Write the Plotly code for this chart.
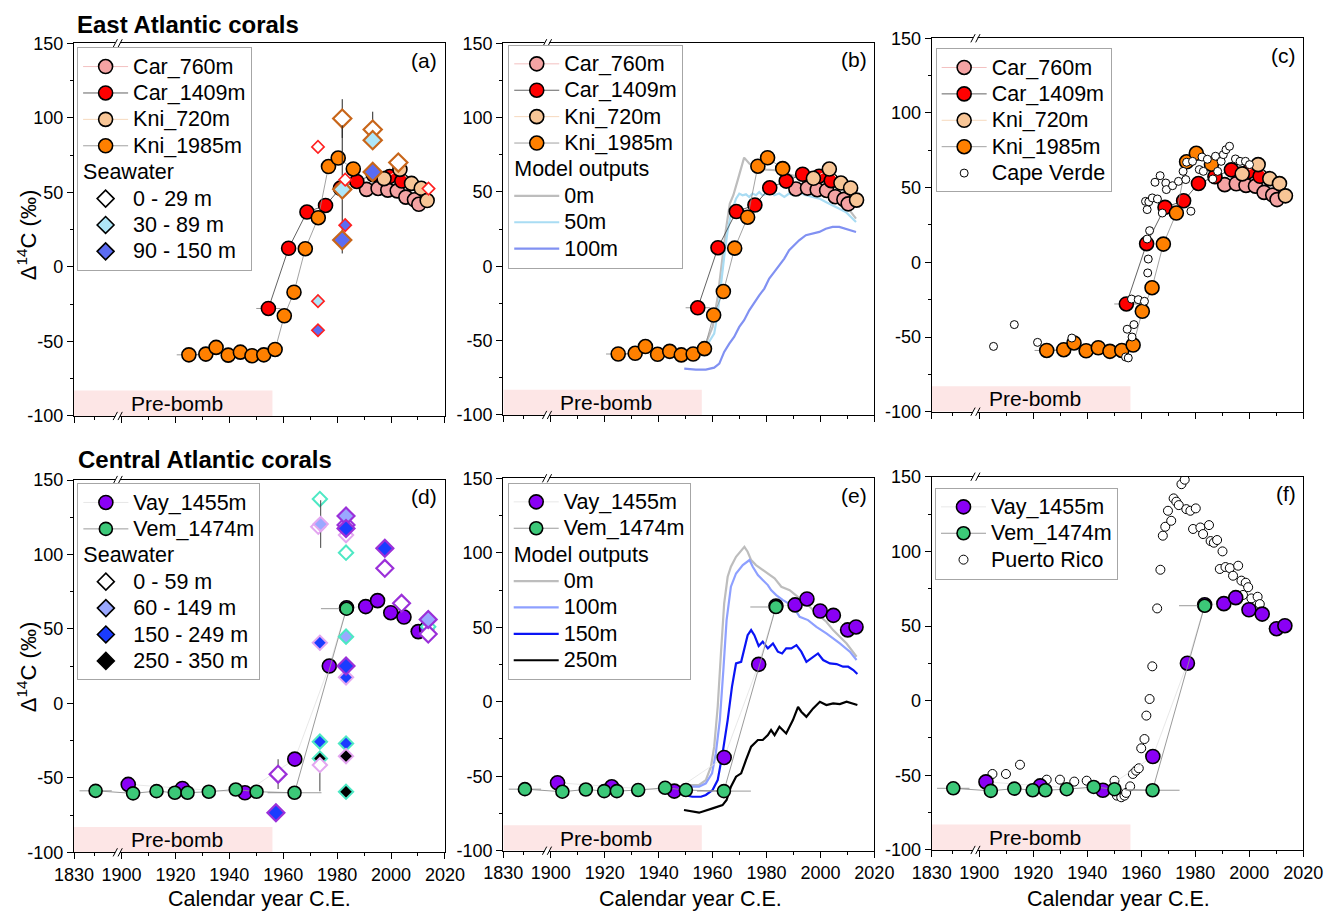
import plotly.graph_objects as go

FONT = "Liberation Sans, Arial, sans-serif"

# ---------------- axis settings (x axis is broken: 1830 | 1900 ... 2020) -------------
X_START = 1882.4                      # display position of the "1830" tick (axis break)
XT_VALS = [X_START, 1900, 1920, 1940, 1960, 1980, 2000, 2020]
XT_TEXT = ["1830", "1900", "1920", "1940", "1960", "1980", "2000", "2020"]
X_MINOR = [1890, 1910, 1930, 1950, 1970, 1990, 2010]
Y_TICKS = [-100, -50, 0, 50, 100, 150]
Y_TEXT = ["-100", "-50", "0", "50", "100", "150"]
Y_MINOR = [-75, -25, 25, 75, 125]

# ---------------- East Atlantic corals ----------------
car760_year = [1990.9, 1995.2, 1998.8, 2002.3, 2005.5, 2008.7, 2010.3]
car760_val = [52.0, 52.6, 51.5, 51.0, 46.8, 45.0, 42.0]

car1409_year = [1954.5, 1962.0, 1968.8, 1975.7, 1981.2, 1987.3, 1993.4, 1999.5, 2004.0]
car1409_val = [-27.9, 12.5, 36.8, 41.2, 52.8, 57.3, 61.9, 60.6, 57.6]
car1409_xerr = [4.5, 0, 0, 0, 0, 0, 0, 0, 0]

kni720_year = [1997.4, 2003.3, 2007.6, 2011.2, 2013.4]
kni720_val = [59.2, 65.4, 56.0, 52.7, 44.5]

kni1985_year = [1925.0, 1931.3, 1935.1, 1939.6, 1944.1, 1948.4, 1952.8, 1957.0, 1960.4,
                1964.0, 1968.2, 1973.0, 1976.8, 1980.4, 1986.0]
kni1985_val = [-59.0, -58.5, -54.0, -59.2, -57.2, -59.6, -59.0, -55.4, -32.8,
               -17.0, 12.2, 33.0, 67.3, 73.0, 65.7]
kni1985_xerr = [4.5] + [0] * 14

# seawater, East Atlantic (panel a)
swa_year = [1972.9, 1983.0, 2013.9, 1972.9, 1972.9, 1983.0,
            1981.9, 1993.2, 2002.7, 1981.9, 1993.2, 1981.9, 1993.2]
swa_val = [80.5, 58.5, 52.5, -23.0, -42.5, 28.0,
           99.5, 92.1, 70.0, 52.0, 85.0, 18.0, 63.7]
swa_err = [0, 0, 0, 0, 0, 0, 13, 12, 0, 43, 0, 0, 0]
swa_depth = ["0 - 29 m", "0 - 29 m", "0 - 29 m", "30 - 89 m", "90 - 150 m", "90 - 150 m",
             "0 - 29 m", "0 - 29 m", "0 - 29 m", "30 - 89 m", "30 - 89 m", "90 - 150 m", "90 - 150 m"]
swa_site = ["Car"] * 6 + ["Kni"] * 7
swa_depths = ["0 - 29 m", "30 - 89 m", "90 - 150 m"]
swa_fill = ["white", "#aee6f8", "#5b6cf2"]

# model outputs, East Atlantic (panel b)
mb0_year = [1957.5, 1960.0, 1961.9, 1963.5, 1964.9, 1966.4, 1967.7, 1969.3, 1970.5, 1971.7, 1973.6,
            1976.1, 1979.8, 1983.5, 1987.2, 1992.1, 1997.1, 2002.0, 2005.7, 2009.4, 2013.2]
mb0_val = [-52.0, -40.8, -20.6, 4.0, 24.2, 42.2, 47.8, 57.8, 65.7, 73.1, 69.1,
           65.7, 65.0, 64.6, 62.3, 60.1, 57.4, 53.4, 48.9, 41.0, 32.1]
mb50_year = [1957.5, 1960.6, 1961.9, 1963.1, 1964.3, 1965.6, 1966.6, 1967.7, 1968.7, 1969.9, 1971.1,
             1972.4, 1973.6, 1974.8, 1976.1, 1977.3, 1978.5, 1980.4, 1981.6, 1982.9, 1984.7, 1986.6,
             1988.4, 1990.3, 1992.1, 1994.6, 1997.1, 1999.6, 2002.0, 2004.5, 2007.0, 2009.4, 2013.2]
mb50_val = [-54.3, -45.3, -31.8, -11.7, 6.3, 24.2, 33.2, 39.9, 45.5, 48.9, 47.8,
            48.4, 46.6, 48.9, 47.8, 50.0, 47.8, 48.9, 52.2, 47.8, 48.9, 46.6,
            48.9, 47.8, 49.3, 47.8, 46.6, 45.5, 43.3, 41.0, 38.8, 36.5, 29.8]
mb100_year = [1949.5, 1953.8, 1957.5, 1960.6, 1962.5, 1964.3, 1966.2, 1968.0, 1969.9, 1971.7,
              1973.6, 1975.5, 1977.3, 1979.2, 1981.0, 1982.9, 1984.7, 1986.6, 1988.4, 1990.3,
              1992.1, 1994.6, 1997.1, 1999.6, 2002.0, 2004.5, 2007.0, 2009.4, 2013.2]
mb100_val = [-68.8, -69.5, -69.5, -68.2, -65.5, -57.6, -52.0, -47.5, -40.8, -36.3,
             -29.6, -24.0, -19.5, -15.0, -8.3, -3.8, 0.7, 5.2, 10.8, 14.1,
             17.5, 20.9, 22.0, 23.1, 25.3, 26.5, 26.5, 25.3, 23.1]

# Cape Verde (panel c)
cv_year = [1905.3, 1913.0, 1921.6, 1934.3, 1954.2, 1955.2, 1954.8, 1956.6, 1957.3, 1956.4,
           1958.9, 1961.2, 1962.4, 1962.6, 1962.2, 1963.1, 1961.6, 1962.2, 1962.8, 1964.1,
           1966.0, 1967.8, 1965.1, 1967.0, 1969.1, 1969.3, 1971.6, 1973.8, 1976.5, 1975.5,
           1976.8, 1979.0, 1981.5, 1983.0, 1978.4, 1982.5, 1984.5, 1986.5, 1987.5, 1988.3,
           1989.6, 1990.4, 1991.4, 1992.7, 1994.9, 1996.6, 1998.6, 2000.1]
cv_val = [-56.3, -41.7, -53.6, -50.7, -63.4, -64.0, -44.8, -50.0, -41.7, -24.6,
          -25.0, -26.1, -7.1, 2.2, 15.6, 21.2, 40.8, 35.3, 40.5, 43.1,
          42.4, 33.0, 53.6, 58.0, 53.1, 48.7, 51.3, 54.2, 55.4, 60.9,
          67.0, 67.6, 62.1, 60.9, 34.2, 70.5, 69.0, 55.8, 71.0, 60.9,
          67.6, 72.1, 75.4, 77.7, 69.2, 67.6, 67.6, 65.4]

# ---------------- Central Atlantic corals ----------------
vay_year = [1902.5, 1922.6, 1945.8, 1964.3, 1977.1, 1983.5, 1990.6, 1995.0, 1999.9, 2004.8, 2010.1, 2013.2]
vay_val = [-54.4, -57.1, -60.0, -37.4, 25.1, 64.2, 65.0, 69.0, 60.9, 58.0, 48.2, 50.2]
vay_xerr_p = [3, 0, 0, 0, 0, 0, 0, 0, 0, 0, 0, 0]
vay_xerr_m = [0, 0, 0, 0, 0, 0, 0, 0, 0, 0, 3, 0]

vem_year = [1890.4, 1904.3, 1913.0, 1919.8, 1924.5, 1932.4, 1942.4, 1950.1, 1964.2, 1983.5]
vem_val = [-58.7, -60.4, -58.9, -60.0, -60.0, -59.3, -57.8, -59.3, -60.0, 63.6]
vem_xerr_p = [6, 0, 0, 0, 0, 0, 0, 0, 10, 0]
vem_xerr_m = [6, 0, 0, 0, 0, 0, 0, 0, 10, 9.5]

# seawater, Central Atlantic (panel d)
swd_year = [1958.1, 1957.3, 1973.6, 1973.0, 1973.9, 1973.6, 1973.6, 1973.6, 1973.6,
            1983.3, 1983.3, 1983.3, 1983.3, 1983.3, 1983.3, 1983.3, 1983.3, 1983.3, 1983.3, 1983.3,
            1997.7, 1997.7, 2003.9, 2013.8, 2013.8, 2013.8]
swd_val = [-47.5, -73.4, 137.2, 118.6, 120.4, 40.7, -25.7, -37.0, -41.4,
           125.8, 119.8, 117.5, 113.0, 101.2, 44.8, 25.1, 17.5, -26.9, -35.4, -59.3,
           104.1, 90.7, 67.2, 56.4, 51.5, 46.6]
swd_err_p = [10, 5, 0, 0, 16, 5, 0, 0, 0,
             0, 0, 0, 0, 0, 0, 0, 0, 0, 0, 0,
             0, 0, 0, 0, 0, 0]
swd_err_m = [10, 5, 0, 0, 16, 5, 0, 22, 0,
             0, 0, 0, 0, 0, 0, 0, 0, 0, 0, 0,
             0, 0, 0, 0, 0, 0]
swd_depth = ["0 - 59 m", "150 - 249 m", "0 - 59 m", "0 - 59 m", "60 - 149 m", "150 - 249 m",
             "150 - 249 m", "250 - 350 m", "0 - 59 m",
             "60 - 149 m", "0 - 59 m", "150 - 249 m", "0 - 59 m", "0 - 59 m", "60 - 149 m",
             "150 - 249 m", "150 - 249 m", "150 - 249 m", "250 - 350 m", "250 - 350 m",
             "150 - 249 m", "0 - 59 m", "0 - 59 m", "60 - 149 m", "0 - 59 m", "0 - 59 m"]
swd_site = ["P", "P", "T", "L", "L", "L", "T", "T", "L",
            "P", "P", "P", "L", "T", "T", "P", "L", "T", "L", "T",
            "P", "P", "P", "P", "T", "P"]
swd_depths = ["0 - 59 m", "60 - 149 m", "150 - 249 m", "250 - 350 m"]
swd_fill = ["white", "#9aa8ff", "#1a3cff", "black"]

# model outputs, Central Atlantic (panel e)
me0_year = [1949.4, 1955.0, 1957.5, 1959.4, 1960.6, 1961.9, 1963.1, 1964.3, 1965.6, 1966.8, 1968.7,
            1970.6, 1971.8, 1973.0, 1974.3, 1976.1, 1978.6, 1981.1, 1983.0, 1985.5, 1988.6, 1992.3,
            1995.4, 1998.5, 2002.2, 2004.7, 2007.2, 2009.7, 2013.4]
me0_val = [-55.9, -55.9, -52.6, -43.6, -30.2, -3.4, 32.4, 66.0, 83.9, 90.6, 97.3,
           101.8, 104.0, 100.7, 95.1, 91.7, 88.4, 85.0, 82.8, 77.2, 74.9, 69.4,
           64.9, 59.3, 53.7, 48.1, 43.6, 39.1, 30.2]
me100_year = [1949.4, 1955.0, 1957.5, 1959.8, 1961.2, 1962.7, 1964.0, 1965.2, 1966.8, 1968.7, 1971.2,
              1973.7, 1974.9, 1976.8, 1978.6, 1980.5, 1981.7, 1983.6, 1986.1, 1989.8, 1992.3,
              1995.4, 1998.5, 2002.2, 2007.2, 2010.9, 2013.4]
me100_val = [-57.0, -57.0, -54.8, -48.1, -34.7, -12.3, 21.3, 54.8, 77.2, 86.1, 91.7,
             95.1, 90.6, 85.0, 81.7, 78.3, 74.9, 71.6, 68.2, 64.2, 57.0,
             54.8, 50.3, 45.9, 39.1, 33.6, 28.0]
me150_year = [1949.4, 1952.5, 1955.7, 1957.5, 1960.0, 1961.9, 1963.7, 1965.6, 1967.2, 1968.7, 1970.6,
              1971.8, 1973.0, 1974.3, 1975.5, 1977.1, 1978.6, 1980.5, 1982.4, 1984.2, 1985.8,
              1987.3, 1989.2, 1991.1, 1992.9, 1994.8, 1997.3, 1999.1, 2001.0, 2003.5, 2006.0,
              2008.4, 2010.3, 2012.2, 2013.7]
me150_val = [-62.6, -63.8, -63.8, -62.6, -59.3, -52.6, -34.7, -12.3, 10.1, 25.7, 26.8,
             36.9, 44.7, 48.1, 44.7, 37.4, 40.3, 35.8, 39.1, 33.6, 32.4,
             35.8, 35.8, 38.0, 33.6, 26.8, 30.2, 32.4, 28.0, 25.7, 25.3,
             23.5, 23.5, 21.3, 18.6]
me250_year = [1949.4, 1955.0, 1960.0, 1963.7, 1965.2, 1966.8, 1968.7, 1970.6, 1972.4, 1974.3, 1976.8,
              1978.6, 1980.5, 1981.7, 1983.0, 1984.8, 1987.3, 1989.8, 1991.7, 1992.9, 1994.8,
              1997.3, 1999.8, 2002.2, 2004.7, 2007.2, 2009.7, 2012.2, 2013.7]
me250_val = [-72.7, -74.5, -71.6, -69.4, -66.0, -57.0, -50.3, -48.1, -39.1, -30.2, -25.7,
             -25.7, -22.4, -19.0, -22.4, -16.8, -21.3, -12.3, -3.4, -6.7, -10.1,
             -4.5, 0.0, -2.2, -1.1, -1.6, 0.0, -1.1, -2.2]

# Puerto Rico (panel f)
pr_year = [1904.9, 1909.9, 1915.1, 1925.0, 1929.9, 1935.2, 1939.8, 1950.1, 1951.0, 1952.6, 1953.8,
           1954.4, 1955.9, 1956.9, 1958.1, 1959.1, 1960.0, 1961.2, 1961.9, 1963.1, 1964.1, 1965.9,
           1967.1, 1968.0, 1968.9, 1969.9, 1971.1, 1972.0, 1973.0, 1973.9, 1974.9, 1976.1, 1976.7,
           1978.2, 1979.2, 1980.2, 1981.9, 1982.9, 1985.1, 1985.7, 1986.9, 1988.1, 1989.1, 1990.1,
           1991.2, 1992.8, 1994.0, 1995.9, 1997.1, 1997.7, 1998.7, 1999.6, 2000.8, 2003.1, 2003.9]
pr_val = [-49.1, -49.1, -42.9, -52.9, -52.9, -54.2, -53.6, -53.6, -63.6, -64.7, -63.6,
          -61.8, -57.4, -49.1, -46.9, -45.3, -31.9, -25.7, -10.0, 1.1, 23.0, 61.8,
          87.7, 110.5, 116.5, 127.2, 120.5, 135.5, 133.3, 131.0, 145.0, 148.0, 128.3,
          127.2, 115.0, 128.8, 116.0, 111.6, 117.6, 106.9, 105.8, 107.6, 88.2, 100.0,
          89.5, 88.8, 83.7, 90.4, 80.4, 70.8, 79.0, 76.0, 68.5, 69.6, 64.7]

PANEL_LABELS = ["(a)", "(b)", "(c)", "(d)", "(e)", "(f)"]

# ---------------- layout geometry ----------------
XDOM = {1: [0.0558, 0.3353], 2: [0.3793, 0.6589], 3: [0.7021, 0.9821],
        4: [0.0558, 0.3353], 5: [0.3793, 0.6589], 6: [0.7021, 0.9821]}
YDOM = {1: [0.5434, 0.9525], 2: [0.5445, 0.9525], 3: [0.5481, 0.9580],
        4: [0.0644, 0.4731], 5: [0.0662, 0.4750], 6: [0.0670, 0.4767]}
LEG_POS = {1: (0.0581, 0.948), 2: (0.3830, 0.951), 3: (0.7051, 0.947),
           4: (0.0583, 0.4695), 5: (0.3826, 0.4702), 6: (0.7046, 0.4647)}

LEG_FONT = 18          # sets the legend row spacing
LEG_TEXT = 21.5        # visible size of the legend texts


def lt(s):
    return f'<span style="font-size:{LEG_TEXT}px">{s}</span>'


fig = go.Figure()


def refs(k):
    return ("x" if k == 1 else f"x{k}"), ("y" if k == 1 else f"y{k}"), ("legend" if k == 1 else f"legend{k}")


def add(tr, k):
    xr, yr, lg = refs(k)
    tr.update(xaxis=xr, yaxis=yr, legend=lg)
    fig.add_trace(tr)


def coral(x, y, name, fill, lcolor, lwidth, k, rank, xp=None, xm=None, size=14):
    err = None
    if xp is not None:
        err = dict(type="data", symmetric=False, array=xp, arrayminus=xm if xm is not None else xp,
                   color="#9a9a9a", thickness=1, width=0)
    add(go.Scatter(x=x, y=y, mode="lines+markers", name=lt(name),
                   line=dict(color=lcolor, width=lwidth),
                   marker=dict(size=size, color=fill, line=dict(color="black", width=1.6)),
                   error_x=err, legendgroup="c", legendrank=rank), k)


def east_corals(k):
    coral(car760_year, car760_val, "Car_760m", "#f4a3a3", "#f3c0c0", 1, k, 1)
    coral(car1409_year, car1409_val, "Car_1409m", "#ff0000", "#3a3a3a", 0.8, k, 2, car1409_xerr)
    coral(kni720_year, kni720_val, "Kni_720m", "#f7c596", "#f6d9bd", 1, k, 3)
    coral(kni1985_year, kni1985_val, "Kni_1985m", "#ff8000", "#8a8a8a", 0.8, k, 4, kni1985_xerr)


def central_corals(k):
    coral(vay_year, vay_val, "Vay_1455m", "#8a00f5", "#e2e2e2", 0.8, k, 1, vay_xerr_p, vay_xerr_m)
    coral(vem_year, vem_val, "Vem_1474m", "#3cc878", "#8f8f8f", 0.9, k, 2, vem_xerr_p, vem_xerr_m, size=13)


def model_line(x, y, name, color, k, rank, width=2.2):
    add(go.Scatter(x=x, y=y, mode="lines", name=lt(name), line=dict(color=color, width=width),
                   legendgroup="m", legendrank=rank,
                   legendgrouptitle=dict(text=lt("Model outputs"),
                                         font=dict(size=LEG_FONT, family=FONT, color="black"))), k)


def legend_diamond(name, fill, k, rank, group_title):
    add(go.Scatter(x=[None], y=[None], mode="markers", name=lt(name),
                   marker=dict(symbol="diamond", size=13, color=fill, line=dict(color="black", width=1.6)),
                   legendgroup="sw", legendrank=rank,
                   legendgrouptitle=dict(text=lt(group_title),
                                         font=dict(size=LEG_FONT, family=FONT, color="black"))), k)


# ---------- panel (a) ----------
east_corals(1)
site_edge_a = {"Kni": ("#c8661a", 14, 2.2), "Car": ("#ff2020", 9.5, 1.6)}
for site in ["Kni", "Car"]:
    edge, size, lw = site_edge_a[site]
    for dep, fill in zip(swa_depths, swa_fill):
        idx = [i for i in range(len(swa_year)) if swa_site[i] == site and swa_depth[i] == dep]
        if not idx:
            continue
        add(go.Scatter(x=[swa_year[i] for i in idx], y=[swa_val[i] for i in idx], mode="markers",
                       showlegend=False,
                       marker=dict(symbol="diamond", size=size, color=fill, line=dict(color=edge, width=lw)),
                       error_y=dict(type="data", array=[swa_err[i] for i in idx], color="#222222",
                                    thickness=1, width=0)), 1)
for j, (dep, fill) in enumerate(zip(swa_depths, swa_fill)):
    legend_diamond(dep, fill, 1, 10 + j, "Seawater")

# ---------- panel (b) ----------
model_line(mb0_year, mb0_val, "0m", "#bdbdbd", 2, 10)
model_line(mb50_year, mb50_val, "50m", "#a9dcf3", 2, 11)
model_line(mb100_year, mb100_val, "100m", "#8191f2", 2, 12)
east_corals(2)

# ---------- panel (c) ----------
east_corals(3)
add(go.Scatter(x=cv_year, y=cv_val, mode="markers", name=lt("Cape Verde"),
               marker=dict(size=8, color="white", line=dict(color="black", width=1)),
               legendgroup="c", legendrank=5), 3)

# ---------- panel (d) ----------
central_corals(4)
site_edge_d = {"P": ("#9b30d9", 13, 2.2), "L": ("#e3a6f0", 11, 2.0), "T": ("#4ee8c4", 11, 2.0)}
for site in ["T", "L", "P"]:
    edge, size, lw = site_edge_d[site]
    for dep, fill in zip(swd_depths, swd_fill):
        idx = [i for i in range(len(swd_year)) if swd_site[i] == site and swd_depth[i] == dep]
        if not idx:
            continue
        add(go.Scatter(x=[swd_year[i] for i in idx], y=[swd_val[i] for i in idx], mode="markers",
                       showlegend=False,
                       marker=dict(symbol="diamond", size=size, color=fill, line=dict(color=edge, width=lw)),
                       error_y=dict(type="data", symmetric=False, array=[swd_err_p[i] for i in idx],
                                    arrayminus=[swd_err_m[i] for i in idx], color="#444444",
                                    thickness=1, width=0)), 4)
for j, (dep, fill) in enumerate(zip(swd_depths, swd_fill)):
    legend_diamond(dep, fill, 4, 10 + j, "Seawater")

# ---------- panel (e) ----------
model_line(me0_year, me0_val, "0m", "#bdbdbd", 5, 10)
model_line(me100_year, me100_val, "100m", "#8ea0ff", 5, 11)
model_line(me150_year, me150_val, "150m", "#0a14f5", 5, 12)
model_line(me250_year, me250_val, "250m", "#000000", 5, 13)
central_corals(5)

# ---------- panel (f) ----------
add(go.Scatter(x=pr_year, y=pr_val, mode="markers", name=lt("Puerto Rico"),
               marker=dict(size=9, color="white", line=dict(color="black", width=1)),
               legendgroup="c", legendrank=5), 6)
central_corals(6)

# ---------------- axes ----------------
layout = dict(
    width=1327, height=911, margin=dict(l=0, r=0, t=0, b=0, autoexpand=False),
    paper_bgcolor="white", plot_bgcolor="white",
    font=dict(family=FONT, color="black", size=18),
    showlegend=True,
)
shapes = []
annotations = []
for k in range(1, 7):
    xr, yr, lg = refs(k)
    xkey = "xaxis" if k == 1 else f"xaxis{k}"
    ykey = "yaxis" if k == 1 else f"yaxis{k}"
    common_x = dict(range=[X_START, 2020], tickmode="array", tickvals=XT_VALS, ticktext=XT_TEXT,
                    showgrid=False, zeroline=False, tickcolor="black", tickwidth=1, automargin=False)
    common_y = dict(range=[-100, 150], tickmode="array", tickvals=Y_TICKS, ticktext=Y_TEXT,
                    showgrid=False, zeroline=False, tickcolor="black", tickwidth=1, automargin=False)
    layout[xkey] = dict(common_x, domain=XDOM[k], anchor=yr, showticklabels=(k >= 4),
                        ticks="outside", ticklen=6, showline=True, linecolor="black", linewidth=1.2,
                        mirror=True, tickfont=dict(size=18),
                        minor=dict(tickmode="array", tickvals=X_MINOR, ticks="outside", ticklen=3,
                                   tickcolor="black"))
    layout[ykey] = dict(common_y, domain=YDOM[k], anchor=xr, ticks="outside", ticklen=6,
                        showline=True, linecolor="black", linewidth=1.2, mirror=True,
                        tickfont=dict(size=18),
                        minor=dict(tickmode="array", tickvals=Y_MINOR, ticks="outside", ticklen=3,
                                   tickcolor="black"))
    # mirrored inward ticks on top / right
    layout[f"xaxis{k + 6}"] = dict(common_x, overlaying=xr, side="top", anchor=yr, ticks="inside",
                                   ticklen=6, showticklabels=False, showline=False,
                                   minor=dict(tickmode="array", tickvals=X_MINOR, ticks="inside",
                                              ticklen=3, tickcolor="black"))
    layout[f"yaxis{k + 6}"] = dict(common_y, overlaying=yr, side="right", anchor=xr, ticks="inside",
                                   ticklen=6, showticklabels=False, showline=False,
                                   minor=dict(tickmode="array", tickvals=Y_MINOR, ticks="inside",
                                              ticklen=3, tickcolor="black"))
    # legend
    lx, ly = LEG_POS[k]
    layout[lg] = dict(x=lx, y=ly, xanchor="left", yanchor="top", bgcolor="white",
                      bordercolor="#a6a6a6", borderwidth=1,
                      font=dict(size=LEG_FONT, family=FONT, color="black"),
                      traceorder="grouped", tracegroupgap=0, itemwidth=45, itemsizing="trace")
    # Pre-bomb band
    shapes.append(dict(type="rect", xref=xr, yref=yr, x0=X_START, x1=1956, y0=-100, y1=-83,
                       fillcolor="#fde6e6", line=dict(width=0), layer="below"))
    annotations.append(dict(text="Pre-bomb", xref=xr, yref=yr, x=1920.5, y=-91.5, showarrow=False,
                            font=dict(size=21, family=FONT, color="black")))
    # axis-break marks
    for yb in (0, 1):
        shapes.append(dict(type="rect", xref=xr, yref=f"{yr} domain", x0=1897.7, x1=1899.4,
                           y0=yb - 0.006, y1=yb + 0.006, fillcolor="white", line=dict(width=0),
                           layer="above"))
        for xs in (1896.9, 1898.7):
            shapes.append(dict(type="line", xref=xr, yref=f"{yr} domain", x0=xs, x1=xs + 1.6,
                               y0=yb - 0.011, y1=yb + 0.011, line=dict(color="black", width=1),
                               layer="above"))
    # panel label
    annotations.append(dict(text=PANEL_LABELS[k - 1], xref=f"{xr} domain", yref=f"{yr} domain",
                            x=0.985, y=0.955, xanchor="right", yanchor="middle", showarrow=False,
                            font=dict(size=21, family=FONT, color="black")))

annotations += [
    dict(text="<b>East Atlantic corals</b>", xref="paper", yref="paper", x=0.0565, y=0.9726,
         xanchor="left", yanchor="middle", showarrow=False, font=dict(size=24, family=FONT)),
    dict(text="<b>Central Atlantic corals</b>", xref="paper", yref="paper", x=0.0573, y=0.4951,
         xanchor="left", yanchor="middle", showarrow=False, font=dict(size=24, family=FONT)),
    dict(text="Δ<sup>14</sup>C (‰)", xref="paper", yref="paper", x=0.0205, y=0.742, textangle=-90,
         xanchor="center", yanchor="middle", showarrow=False, font=dict(size=22, family=FONT)),
    dict(text="Δ<sup>14</sup>C (‰)", xref="paper", yref="paper", x=0.0205, y=0.2678, textangle=-90,
         xanchor="center", yanchor="middle", showarrow=False, font=dict(size=22, family=FONT)),
]
for xc in (259, 690, 1118):
    annotations.append(dict(text="Calendar year C.E.", xref="paper", yref="paper", x=xc / 1327,
                            y=0.0135, xanchor="center", yanchor="middle", showarrow=False,
                            font=dict(size=21.5, family=FONT)))

layout["shapes"] = shapes
layout["annotations"] = annotations
fig.update_layout(**layout)
fig.write_html("out.html", config={"displayModeBar": False},
               post_script="document.body.style.margin='0px';")
